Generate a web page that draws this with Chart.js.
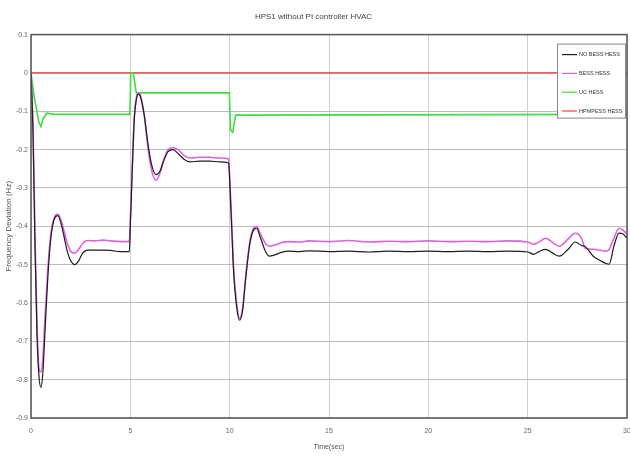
<!DOCTYPE html>
<html>
<head>
<meta charset="utf-8">
<script src="https://cdn.jsdelivr.net/npm/chart.js@4/dist/chart.umd.min.js"></script>
<style>
html,body{margin:0;padding:0;background:#fff;}
#wrap{width:630px;height:459px;position:relative;}
</style>
</head>
<body>
<div id="wrap"><canvas id="c" width="630" height="459"></canvas></div>
<script>
// ---- data ----
const chartTitle = 'HPS1 without PI controller HVAC';
const xTitle = 'Time(sec)';
const yTitle = 'Frequency Deviation (Hz)';
const seriesNames = ['NO BESS HESS', 'BESS HESS', 'UC HESS', 'HPMPESS HESS'];

const xTicks = [0, 5, 10, 15, 20, 25, 30];
const yTicks = [0.1, 0, -0.1, -0.2, -0.3, -0.4, -0.5, -0.6, -0.7, -0.8, -0.9];
const yTickLabels = ['0.1', '0', '-0.1', '-0.2', '-0.3', '-0.4', '-0.5', '-0.6', '-0.7', '-0.8', '-0.9'];

const tBlack = [0,0.1,0.2,0.3,0.4,0.5,0.6,0.7,0.85,1.0,1.15,1.35,1.55,1.8,2.0,2.2,2.4,2.6,2.85,3.2,3.6,4.0,4.5,4.95,
  5.0,5.1,5.2,5.3,5.4,5.5,5.7,5.9,6.1,6.3,6.5,6.7,6.9,7.15,7.4,7.7,8.0,8.5,9.0,9.5,9.95,
  10.0,10.1,10.2,10.35,10.5,10.65,10.8,11.0,11.2,11.35,11.55,11.8,12.0,12.3,12.6,13,13.5,14,15,16,17,18,19,20,21,22,23,24,25,
  25.3,25.6,25.9,26.2,26.6,27.0,27.4,27.7,27.9,28.3,28.6,28.9,29.1,29.35,29.6,29.8,30];
const vBlack = [0,-0.15,-0.45,-0.68,-0.79,-0.82,-0.78,-0.68,-0.53,-0.43,-0.385,-0.372,-0.40,-0.46,-0.49,-0.50,-0.49,-0.47,-0.462,-0.462,-0.462,-0.463,-0.466,-0.466,
  -0.40,-0.25,-0.12,-0.07,-0.055,-0.06,-0.11,-0.19,-0.245,-0.265,-0.255,-0.225,-0.205,-0.20,-0.21,-0.225,-0.232,-0.23,-0.23,-0.232,-0.235,
  -0.28,-0.40,-0.52,-0.61,-0.645,-0.62,-0.54,-0.45,-0.41,-0.405,-0.43,-0.465,-0.478,-0.474,-0.468,-0.465,-0.466,-0.464,-0.466,-0.465,-0.467,-0.465,-0.466,-0.465,-0.466,-0.465,-0.466,-0.465,-0.467,
  -0.473,-0.465,-0.46,-0.468,-0.478,-0.462,-0.441,-0.45,-0.453,-0.478,-0.488,-0.496,-0.499,-0.45,-0.418,-0.42,-0.431];

const tPink = tBlack;
const vPink = [0,-0.14,-0.42,-0.65,-0.77,-0.78,-0.74,-0.64,-0.51,-0.42,-0.38,-0.368,-0.39,-0.44,-0.465,-0.47,-0.46,-0.445,-0.437,-0.438,-0.436,-0.438,-0.44,-0.44,
  -0.38,-0.24,-0.115,-0.065,-0.052,-0.058,-0.11,-0.20,-0.26,-0.28,-0.26,-0.225,-0.20,-0.195,-0.20,-0.215,-0.222,-0.22,-0.22,-0.222,-0.224,
  -0.27,-0.39,-0.51,-0.60,-0.64,-0.615,-0.535,-0.445,-0.405,-0.40,-0.42,-0.445,-0.452,-0.448,-0.442,-0.44,-0.441,-0.438,-0.44,-0.437,-0.441,-0.439,-0.44,-0.438,-0.44,-0.439,-0.44,-0.438,-0.441,
  -0.447,-0.44,-0.431,-0.44,-0.452,-0.435,-0.418,-0.43,-0.457,-0.46,-0.462,-0.465,-0.46,-0.43,-0.405,-0.41,-0.42];

const tGreen = [0,0.15,0.3,0.4,0.5,0.6,0.8,1.2,4.98,5.02,5.15,5.3,9.98,10.05,10.15,10.3,30];
const vGreen = [0,-0.06,-0.1,-0.13,-0.14,-0.12,-0.105,-0.108,-0.108,0,0,-0.052,-0.052,-0.15,-0.155,-0.11,-0.108];

const tRed = [0, 30];
const vRed = [0, 0];

const colors = ['#1e1e1e', '#e060e0', '#40dc40', '#ff4040'];
const widths = [1.2, 1.6, 1.6, 1.6];
const tensions = [0.25, 0.25, 0, 0];

function pts(t, v){ return t.map((x,i)=>({x:x, y:v[i]})); }
const seriesData = [pts(tBlack,vBlack), pts(tPink,vPink), pts(tGreen,vGreen), pts(tRed,vRed)];

// draws the frame and the in-plot legend
const framePlugin = {
  id: 'frame',
  afterDatasetsDraw(chart){
    const {ctx, chartArea:a} = chart;
    ctx.save();
    ctx.strokeStyle = '#555';
    ctx.lineWidth = 1.5;
    ctx.strokeRect(a.left, a.top, a.right - a.left, a.bottom - a.top);
    // legend box
    const bw = 68, bh = 74;
    const bx = a.right - bw - 2, by = a.top + 9;
    ctx.fillStyle = '#fff';
    ctx.fillRect(bx, by, bw, bh);
    ctx.strokeStyle = '#888';
    ctx.lineWidth = 1;
    ctx.strokeRect(bx + 0.5, by + 0.5, bw, bh);
    ctx.font = '5.5px "Liberation Sans Narrow", "Liberation Sans", Arial, sans-serif';
    ctx.textBaseline = 'middle';
    chart.data.datasets.forEach((ds, i) => {
      const yy = by + 11 + i * 18.8;
      ctx.strokeStyle = ds.borderColor;
      ctx.lineWidth = 1.2;
      ctx.beginPath();
      ctx.moveTo(bx + 5, yy); ctx.lineTo(bx + 20, yy); ctx.stroke();
      ctx.fillStyle = '#333';
      ctx.fillText(ds.label, bx + 22, yy);
    });
    ctx.restore();
  }
};

new Chart(document.getElementById('c'), {
  type: 'line',
  data: {
    datasets: seriesNames.map((n, i) => ({
      label: n,
      data: seriesData[i],
      borderColor: colors[i],
      backgroundColor: colors[i],
      borderWidth: widths[i],
      pointRadius: 0,
      tension: tensions[i],
      cubicInterpolationMode: i < 2 ? 'monotone' : 'default',
      fill: false
    }))
  },
  options: {
    responsive: false,
    animation: false,
    layout: { padding: { left: 0, right: 3, top: 0, bottom: 0 } },
    plugins: {
      legend: { display: false },
      tooltip: { enabled: false },
      title: {
        display: true,
        text: chartTitle,
        color: '#444',
        font: { size: 8, family: '"Liberation Sans", Arial, sans-serif', weight: 'normal' },
        padding: { top: 12, bottom: 13 }
      }
    },
    scales: {
      x: {
        type: 'linear',
        min: 0, max: 30,
        afterBuildTicks(s){ s.ticks = xTicks.map(v => ({value: v})); },
        ticks: {
          color: '#666',
          font: { size: 7, family: '"Liberation Sans", Arial, sans-serif' },
          padding: 9,
          maxRotation: 0,
          callback: (v) => String(v)
        },
        grid: { color: '#cfcfcf', lineWidth: 1, drawTicks: false, tickLength: 0 },
        border: { display: false },
        title: {
          display: true, text: xTitle, color: '#555',
          font: { size: 7, family: '"Liberation Sans", Arial, sans-serif' },
          padding: { top: 4, bottom: 8 }
        },
        afterFit(s){ s.height = 41; s.paddingRight = 0; s.paddingLeft = 0; }
      },
      y: {
        type: 'linear',
        min: -0.9, max: 0.1,
        afterBuildTicks(s){ s.ticks = yTicks.map(v => ({value: v})); },
        ticks: {
          color: '#666',
          font: { size: 7, family: '"Liberation Sans", Arial, sans-serif' },
          padding: 3,
          callback: (v) => { const i = yTicks.findIndex(t => Math.abs(t - v) < 1e-9); return i >= 0 ? yTickLabels[i] : ''; }
        },
        grid: { color: '#bdbdbd', lineWidth: 1, drawTicks: false, tickLength: 0 },
        border: { display: false },
        title: {
          display: true, text: yTitle, color: '#555',
          font: { size: 8, family: '"Liberation Sans", Arial, sans-serif' },
          padding: { top: 4, bottom: 2 }
        },
        afterFit(s){ s.width = 31; s.paddingTop = 0; s.paddingBottom = 0; }
      }
    }
  },
  plugins: [framePlugin]
});
</script>
</body>
</html>
